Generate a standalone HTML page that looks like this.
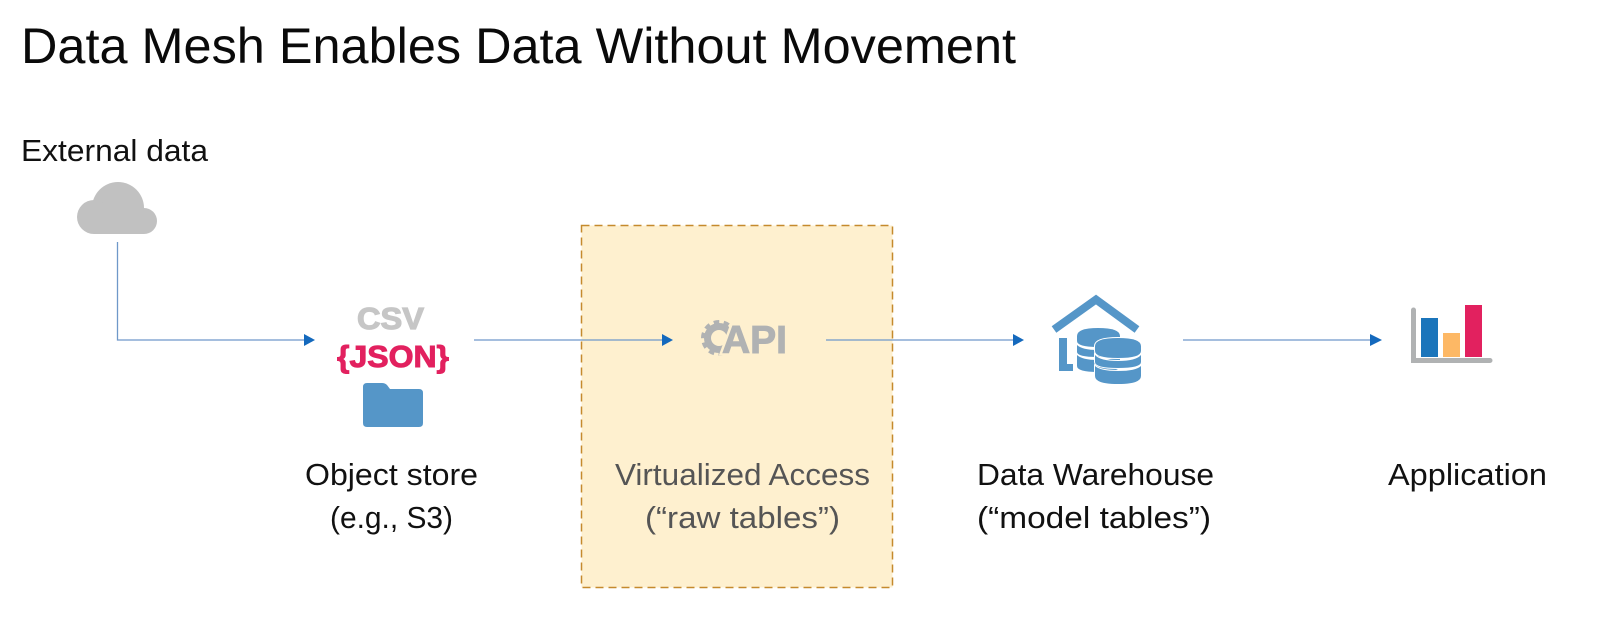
<!DOCTYPE html>
<html><head><meta charset="utf-8"><style>
html,body{margin:0;padding:0;background:#fff;width:1600px;height:621px;overflow:hidden}
svg{display:block}
text{font-family:"Liberation Sans",sans-serif}
</style></head><body>
<svg width="1600" height="621" viewBox="0 0 1600 621" xmlns="http://www.w3.org/2000/svg">
<rect width="1600" height="621" fill="#fff"/>
<text x="21" y="63" font-size="50" fill="#0a0a0a" textLength="995" lengthAdjust="spacingAndGlyphs">Data Mesh Enables Data Without Movement</text>
<text x="21" y="161" font-size="31" fill="#111" textLength="187" lengthAdjust="spacingAndGlyphs">External data</text>

<g fill="#c1c1c1">
<circle cx="118" cy="208" r="26"/>
<circle cx="94" cy="217" r="17"/>
<circle cx="144" cy="221" r="13"/>
<rect x="94" y="212" width="50" height="22"/>
</g>

<rect x="581.5" y="225.5" width="311" height="362" fill="#fef0cf" stroke="#c58a2d" stroke-width="1.5" stroke-dasharray="8 5"/>

<g fill="none" stroke="#6f98c9" stroke-width="1.3">
<path d="M117.5 242V340H305"/>
<path d="M474 340H663"/>
<path d="M826 340H1014"/>
<path d="M1183 340H1371"/>
</g>
<g fill="#1469bd">
<path d="M304 334L315 340L304 346Z"/>
<path d="M662 334L673 340L662 346Z"/>
<path d="M1013 334L1024 340L1013 346Z"/>
<path d="M1370 334L1382 340L1370 346Z"/>
</g>

<text x="357" y="329" font-size="31" font-weight="700" fill="#c6c6c6" stroke="#c6c6c6" stroke-width="1.2" textLength="67" lengthAdjust="spacingAndGlyphs">CSV</text>
<text x="337" y="367" font-size="31" font-weight="700" fill="#e2215f" stroke="#e2215f" stroke-width="1" textLength="112" lengthAdjust="spacingAndGlyphs">{JSON}</text>
<path d="M367 383H382Q385 383 387 385L390 389H419Q423 389 423 393V423Q423 427 419 427H367Q363 427 363 423V387Q363 383 367 383Z" fill="#5596c8"/>

<circle cx="719" cy="338" r="11.5" fill="none" stroke="#b0b2b3" stroke-width="7"/>
<circle cx="719" cy="338" r="16" fill="none" stroke="#b0b2b3" stroke-width="4" stroke-dasharray="5.5 4.5"/>
<text x="722" y="353" font-size="39" font-weight="700" fill="#fef0cf" stroke="#fef0cf" stroke-width="6" textLength="65" lengthAdjust="spacingAndGlyphs">API</text>
<text x="722" y="353" font-size="39" font-weight="700" fill="#b0b2b3" stroke="#b0b2b3" stroke-width="1" textLength="65" lengthAdjust="spacingAndGlyphs">API</text>

<path d="M1054 329.5L1096 299.5L1137 329.5" fill="none" stroke="#5596c8" stroke-width="8"/>
<path d="M1059 338H1067V364H1073V371H1059Z" fill="#5596c8"/>
<g fill="#5596c8">
<path d="M1077 336Q1077 328 1098 328Q1120 328 1120 336V341Q1120 347 1098 347Q1077 347 1077 341Z"/>
<path d="M1077 345Q1082 350 1098 350Q1114 350 1120 345V352Q1120 357 1098 357Q1077 357 1077 352Z"/>
<path d="M1077 355Q1082 360 1098 360Q1114 360 1120 355V366Q1120 372 1098 372Q1077 372 1077 366Z"/>
</g>
<g fill="#5596c8" stroke="#fff" stroke-width="2" paint-order="stroke">
<path d="M1095 346Q1095 338 1118 338Q1141 338 1141 346V351Q1141 358 1118 358Q1095 358 1095 351Z"/>
<path d="M1095 355Q1100 361 1118 361Q1136 361 1141 355V362Q1141 368 1118 368Q1095 368 1095 362Z"/>
<path d="M1095 366Q1100 371 1118 371Q1136 371 1141 366V376Q1141 384 1118 384Q1095 384 1095 376Z"/>
</g>

<path d="M1413.5 310V360.5H1490" fill="none" stroke="#b0b2b3" stroke-width="5" stroke-linecap="round"/>
<rect x="1421" y="318" width="17" height="39" fill="#1b75bb"/>
<rect x="1443" y="333" width="17" height="24" fill="#fdb865"/>
<rect x="1465" y="305" width="17" height="52" fill="#e2215f"/>

<g font-size="31" fill="#111" text-anchor="start">
<text x="305" y="485" textLength="173" lengthAdjust="spacingAndGlyphs">Object store</text>
<text x="330" y="528" textLength="123" lengthAdjust="spacingAndGlyphs">(e.g., S3)</text>
<text x="615" y="485" fill="#555" textLength="255" lengthAdjust="spacingAndGlyphs">Virtualized Access</text>
<text x="645" y="528" fill="#555" textLength="195" lengthAdjust="spacingAndGlyphs">(“raw tables”)</text>
<text x="977" y="485" textLength="237" lengthAdjust="spacingAndGlyphs">Data Warehouse</text>
<text x="977" y="528" textLength="234" lengthAdjust="spacingAndGlyphs">(“model tables”)</text>
<text x="1388" y="485" textLength="159" lengthAdjust="spacingAndGlyphs">Application</text>
</g>
</svg>
</body></html>
